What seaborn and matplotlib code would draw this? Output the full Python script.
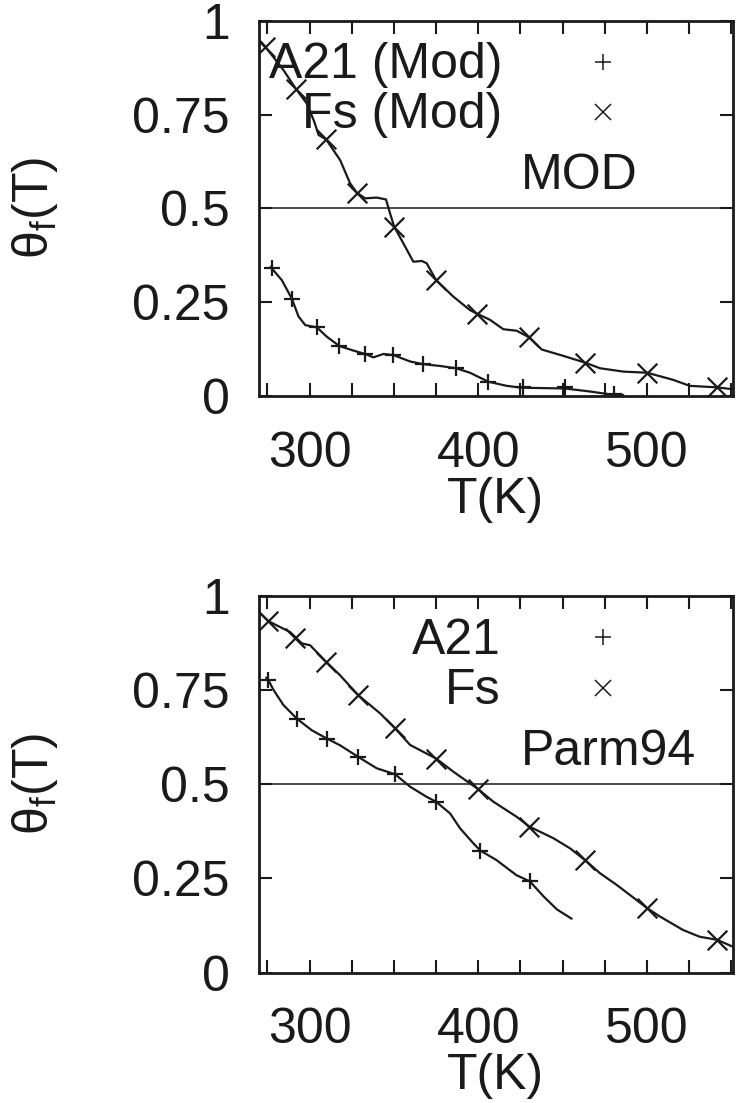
import matplotlib
matplotlib.use("Agg")
import matplotlib.pyplot as plt
import numpy as np
import pandas as pd
import seaborn as sns
from matplotlib.ticker import MultipleLocator, FixedLocator

# ---- data ----
# top panel (MOD): continuous curves
mod_fs_T = [271.1, 273.6, 284.5, 292.0, 298.3, 302.7, 305.3, 309.8, 318.1, 324.0, 328.0, 332.9,
            339.8, 345.3, 347.7, 350.1, 355.6, 361.5, 366.5, 369.4, 375.0, 385.2, 395.1, 399.5,
            407.0, 414.9, 422.8, 430.3, 437.6, 450.4, 463.3, 472.2, 486.0, 500.2, 515.6, 525.5,
            541.7, 550.8]
mod_fs_y = [0.945, 0.932, 0.869, 0.818, 0.780, 0.732, 0.696, 0.684, 0.629, 0.567, 0.542, 0.527,
            0.529, 0.524, 0.487, 0.452, 0.407, 0.358, 0.360, 0.354, 0.309, 0.265, 0.229, 0.219,
            0.203, 0.178, 0.174, 0.156, 0.124, 0.107, 0.089, 0.074, 0.065, 0.062, 0.043, 0.027,
            0.023, 0.018]
mod_a21_T = [277.0, 277.6, 283.5, 289.5, 293.4, 297.4, 304.3, 310.2, 317.7, 326.0, 332.9, 337.8,
             343.8, 349.7, 359.6, 367.1, 377.4, 386.8, 395.1, 406.0, 416.9, 425.7, 451.4, 466.2,
             480.1, 486.0]
mod_a21_y = [0.345, 0.340, 0.309, 0.259, 0.212, 0.189, 0.183, 0.158, 0.133, 0.121, 0.112, 0.103,
             0.112, 0.109, 0.092, 0.085, 0.080, 0.074, 0.062, 0.038, 0.027, 0.022, 0.020, 0.012,
             0.003, 0.003]
# top panel markers
mod_fs_mk_T = [273.6, 292.0, 309.8, 328.0, 350.1, 375.0, 399.5, 430.3, 463.3, 500.2, 541.7]
mod_fs_mk_y = [0.931, 0.818, 0.685, 0.542, 0.451, 0.309, 0.219, 0.157, 0.089, 0.062, 0.023]
mod_a21_mk_T = [277.6, 289.5, 304.3, 317.7, 332.9, 349.7, 367.1, 386.8, 406.0, 426.7, 451.5, 480.5]
mod_a21_mk_y = [0.340, 0.259, 0.183, 0.133, 0.112, 0.109, 0.085, 0.074, 0.038, 0.025, 0.023, 0.006]

# bottom panel (Parm94): continuous curves
p94_fs_T = [271.1, 275.6, 288.5, 295.4, 300.3, 309.8, 318.1, 328.9, 341.8, 350.7, 359.6, 369.4,
            375.0, 385.2, 400.1, 409.0, 422.8, 430.3, 444.6, 454.5, 463.3, 472.2, 482.1, 490.0,
            500.2, 507.7, 521.5, 531.4, 541.7, 550.8]
p94_fs_y = [0.954, 0.934, 0.905, 0.875, 0.870, 0.826, 0.790, 0.737, 0.689, 0.649, 0.605, 0.582,
            0.569, 0.534, 0.487, 0.454, 0.414, 0.388, 0.357, 0.330, 0.299, 0.264, 0.233, 0.206,
            0.171, 0.149, 0.113, 0.095, 0.087, 0.069]
p94_a21_T = [274.2, 275.6, 278.6, 284.5, 292.4, 301.3, 310.2, 318.1, 328.9, 339.8, 350.7, 359.6,
             369.4, 375.0, 383.3, 389.3, 397.2, 401.3, 410.8, 422.6, 430.7, 438.6, 446.6, 455.4]
p94_a21_y = [0.784, 0.777, 0.751, 0.711, 0.675, 0.644, 0.622, 0.604, 0.573, 0.543, 0.527, 0.494,
             0.467, 0.454, 0.423, 0.383, 0.343, 0.324, 0.299, 0.259, 0.242, 0.203, 0.168, 0.143]
# bottom panel markers
p94_fs_mk_T = [275.6, 291.4, 309.8, 328.9, 350.7, 375.0, 400.1, 430.3, 463.3, 500.2, 541.7]
p94_fs_mk_y = [0.934, 0.890, 0.826, 0.737, 0.649, 0.569, 0.487, 0.388, 0.299, 0.171, 0.087]
p94_a21_mk_T = [275.6, 292.4, 310.2, 328.9, 350.7, 375.0, 401.3, 430.7]
p94_a21_mk_y = [0.777, 0.675, 0.622, 0.573, 0.527, 0.454, 0.324, 0.242]

y_ticks = [0, 0.25, 0.5, 0.75, 1]
y_ticklabels = ["0", "0.25", "0.5", "0.75", "1"]
x_major = [300, 400, 500]

sns.set_theme(style="ticks")
plt.rcParams["font.family"] = ["Liberation Sans", "DejaVu Sans"]
plt.rcParams["mathtext.default"] = "regular"
plt.rcParams["axes.linewidth"] = 2.0
plt.rcParams["text.color"] = "black"
plt.rcParams["axes.labelcolor"] = "black"
plt.rcParams["xtick.color"] = "black"
plt.rcParams["ytick.color"] = "black"
plt.rcParams["axes.edgecolor"] = "black"

FS = 36

fig = plt.figure(figsize=(7.38, 11.03), dpi=100)
ax_top = fig.add_axes([0.351, 0.641, 0.642, 0.340])
ax_bot = fig.add_axes([0.351, 0.1183, 0.642, 0.341])


def draw_panel(ax, a21_T, a21_y, fs_T, fs_y, a21_mk_T, a21_mk_y, fs_mk_T, fs_mk_y,
               lab_a21, lab_fs, tag, tag_x, a21_xr):
    sns.lineplot(x=a21_T, y=a21_y, color="k", lw=1.6, sort=False, estimator=None, ax=ax)
    sns.lineplot(x=fs_T, y=fs_y, color="k", lw=1.6, sort=False, estimator=None, ax=ax)
    sns.scatterplot(x=a21_mk_T, y=a21_mk_y, marker="+", s=130, color="k", linewidth=1.6, ax=ax)
    sns.scatterplot(x=fs_mk_T, y=fs_mk_y, marker="x", s=200, color="k", linewidth=1.6, ax=ax)
    ax.axhline(0.5, color="k", lw=1.1)

    ax.set_xlim(270, 551)
    ax.set_ylim(0, 1)
    ax.xaxis.set_major_locator(FixedLocator(x_major))
    ax.xaxis.set_minor_locator(MultipleLocator(25))
    ax.set_yticks(y_ticks)
    ax.set_yticklabels(y_ticklabels)
    ax.tick_params(axis="both", which="both", direction="in", top=True, right=True,
                   length=9.5, width=1.5, color="k", labelcolor="k")
    ax.tick_params(axis="x", which="major", labelsize=FS, pad=25)
    ax.tick_params(axis="y", which="major", labelsize=FS, pad=21)
    for s in ax.spines.values():
        s.set_color("k")
        s.set_linewidth(2.0)

    ax.set_xlabel("T(K)", fontsize=FS, labelpad=0, color="k")
    ax.set_ylabel("θ$_f$(T)", fontsize=FS, color="k")
    ax.yaxis.set_label_coords(-0.42, 0.5)

    # gnuplot-style key
    ax.text(a21_xr, 0.848, lab_a21, transform=ax.transAxes, ha="right", va="baseline",
            fontsize=FS, color="k")
    ax.text(a21_xr, 0.715, lab_fs, transform=ax.transAxes, ha="right", va="baseline",
            fontsize=FS, color="k")
    ax.plot([0.726], [0.891], marker="+", ms=12, mew=1.1, color="k", transform=ax.transAxes)
    ax.plot([0.726], [0.757], marker="x", ms=12, mew=1.1, color="k", transform=ax.transAxes)
    ax.text(tag_x, 0.553, tag, transform=ax.transAxes, ha="center", va="baseline",
            fontsize=FS, color="k")


draw_panel(ax_top, mod_a21_T, mod_a21_y, mod_fs_T, mod_fs_y,
           mod_a21_mk_T, mod_a21_mk_y, mod_fs_mk_T, mod_fs_mk_y,
           "A21 (Mod)", "Fs (Mod)", "MOD", 0.675, 0.513)
draw_panel(ax_bot, p94_a21_T, p94_a21_y, p94_fs_T, p94_fs_y,
           p94_a21_mk_T, p94_a21_mk_y, p94_fs_mk_T, p94_fs_mk_y,
           "A21", "Fs", "Parm94", 0.738, 0.51)

fig.savefig("out.png", dpi=100, facecolor="white")
